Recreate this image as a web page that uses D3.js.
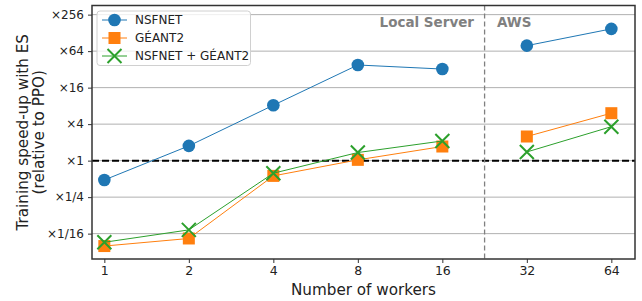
<!DOCTYPE html>
<html><head><meta charset="utf-8">
<script src="https://cdn.jsdelivr.net/npm/d3@7"></script>
<style>body{margin:0;background:#fff;} svg{display:block;font-family:"DejaVu Sans",sans-serif;}</style>
</head><body>
<svg id="chart" width="642" height="301"></svg>
<script>
const workers = ["1","2","4","8","16","32","64"];
const localIdx = [0,1,2,3,4];
const awsIdx = [5,6];
const nsfnet  = [0.48, 1.75, 8.2, 37.8, 32.4, 78.8, 149];
const geant2  = [0.039, 0.052, 0.56, 1.03, 1.71, 2.5, 6.06];
const both    = [0.045, 0.072, 0.62, 1.36, 2.11, 1.39, 3.63];
const yTickValues = [1/16, 1/4, 1, 4, 16, 64, 256];
const yTickLabels = ["×1/16","×1/4","×1","×4","×16","×64","×256"];
const seriesNames = ["NSFNET","GÉANT2","NSFNET + GÉANT2"];
const colors = ["#1f77b4","#ff7f0e","#2ca02c"];

const svg = d3.select("#chart");
const L=92, R=635, T=5.5, B=259;
const x = d3.scaleLinear().domain([-0.146, 6.28]).range([L,R]);
const y = d3.scaleLog().base(2).domain([Math.pow(2,-5.39), Math.pow(2,8.5)]).range([B,T]);

// grid
svg.append("g").selectAll("line").data(yTickValues).join("line")
  .attr("x1",L).attr("x2",R).attr("y1",d=>y(d)).attr("y2",d=>y(d))
  .attr("stroke","#b0b0b0").attr("stroke-width",1);

// y=1 dashed
svg.append("line").attr("x1",L).attr("x2",R).attr("y1",y(1)).attr("y2",y(1))
  .attr("stroke","#000").attr("stroke-width",2).attr("stroke-dasharray","7,3");

// separator
svg.append("line").attr("x1",x(4.5)).attr("x2",x(4.5)).attr("y1",T).attr("y2",B)
  .attr("stroke","#808080").attr("stroke-width",1.3).attr("stroke-dasharray","5,3");

// region labels
svg.append("text").attr("x",474).attr("y",27).attr("text-anchor","end")
  .attr("font-size",13.5).attr("font-weight","bold").attr("fill","#808080").text("Local Server");
svg.append("text").attr("x",497).attr("y",27).attr("text-anchor","start")
  .attr("font-size",13.5).attr("font-weight","bold").attr("fill","#808080").text("AWS");

// axes
const xAxis = d3.axisBottom(x).tickValues(d3.range(workers.length)).tickFormat(i=>workers[i]).tickSize(4).tickPadding(3.5);
const gx = svg.append("g").attr("transform",`translate(0,${B})`).call(xAxis);
gx.select(".domain").remove();
gx.selectAll("text").attr("font-size",12.5).attr("fill","#222").attr("font-family","DejaVu Sans");
gx.selectAll("line").attr("stroke","#333");

const yAxis = d3.axisLeft(y).tickValues(yTickValues).tickFormat((d,i)=>yTickLabels[i]).tickSize(4).tickPadding(4);
const gy = svg.append("g").attr("transform",`translate(${L},0)`).call(yAxis);
gy.select(".domain").remove();
gy.selectAll("text").attr("font-size",12).attr("fill","#222").attr("font-family","DejaVu Sans");
gy.selectAll("line").attr("stroke","#333");

// series
const all = [nsfnet, geant2, both];
all.forEach((vals,si)=>{
  const g = svg.append("g");
  [localIdx, awsIdx].forEach(idx=>{
    const l = d3.line().x(i=>x(i)).y(i=>y(vals[i]));
    g.append("path").attr("d",l(idx)).attr("fill","none").attr("stroke",colors[si]).attr("stroke-width",1);
  });
  vals.forEach((v,i)=>drawMarker(g,x(i),y(v),si));
});

function drawMarker(g,px,py,si){
  if(si===0){
    g.append("circle").attr("cx",px).attr("cy",py).attr("r",6.3).attr("fill",colors[0]);
  } else if(si===1){
    g.append("rect").attr("x",px-6).attr("y",py-6).attr("width",12).attr("height",12).attr("fill",colors[1]);
  } else {
    const s=7;
    g.append("path").attr("d",`M${px-s},${py-s}L${px+s},${py+s}M${px-s},${py+s}L${px+s},${py-s}`)
      .attr("stroke",colors[2]).attr("stroke-width",2).attr("fill","none");
  }
}

// spines
svg.append("rect").attr("x",L).attr("y",T).attr("width",R-L).attr("height",B-T)
  .attr("fill","none").attr("stroke","#333").attr("stroke-width",1.5);

// legend
const lg = svg.append("g");
lg.append("rect").attr("x",97).attr("y",11).attr("width",153.5).attr("height",54.5).attr("rx",3)
  .attr("fill","#fff").attr("fill-opacity",0.8).attr("stroke","#d0d0d0").attr("stroke-width",1);
const legY=[20,38,56];
seriesNames.forEach((n,i)=>{
  lg.append("line").attr("x1",102).attr("x2",127).attr("y1",legY[i]).attr("y2",legY[i])
    .attr("stroke",colors[i]).attr("stroke-width",1);
  drawMarker(lg,114.5,legY[i],i);
  lg.append("text").attr("x",135).attr("y",legY[i]+4.3).attr("font-size",12).attr("fill","#222").text(n);
});

// axis labels
svg.append("text").attr("x",(L+R)/2).attr("y",295).attr("text-anchor","middle")
  .attr("font-size",15.2).attr("fill","#222").text("Number of workers");
const yl = svg.append("text").attr("transform",`translate(27.5,${(T+B)/2}) rotate(-90)`)
  .attr("text-anchor","middle").attr("font-size",15.2).attr("fill","#222");
yl.append("tspan").attr("x",0).attr("dy",0).text("Training speed-up with ES");
yl.append("tspan").attr("x",0).attr("dy",16.5).text("(relative to PPO)");
</script>
</body></html>
